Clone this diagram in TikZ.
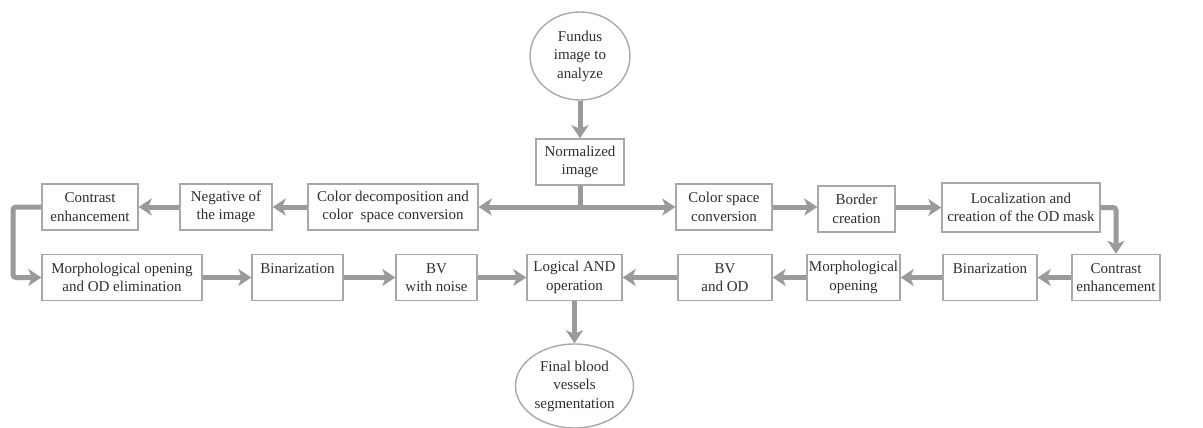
\documentclass[tikz,border=0pt]{standalone}
\usepackage{fontspec}
\setmainfont{Liberation Serif}
\usetikzlibrary{arrows.meta,shapes.geometric}
\definecolor{boxline}{HTML}{A8A8A8}
\definecolor{arrcol}{HTML}{9A9A9A}
\definecolor{txt}{HTML}{2E2E2E}
\begin{document}
\begin{tikzpicture}[x=1pt,y=-1pt,
  box/.style={draw=boxline,line width=1.4pt,fill=white,text=txt,align=center,
    font=\fontsize{15}{18.5}\selectfont,inner sep=0pt,minimum height=46pt},
  oval/.style={box,ellipse},
  flow/.style={draw=arrcol,line width=5pt,rounded corners=3pt,-{Stealth[width=17pt,length=13pt,inset=3.5pt]}},
  plain/.style={draw=arrcol,line width=5pt},
]
\useasboundingbox[fill=white] (0,0) rectangle (1203,428);
% nodes
\node[oval,minimum width=100pt,minimum height=88pt] (fundus) at (580,56) {Fundus\\image to\\analyze};
\node[box,minimum width=88pt] (norm) at (580,162) {Normalized\\image};
% row 1
\node[box,minimum width=96pt] (ce1) at (90,207) {Contrast\\enhancement};
\node[box,minimum width=92pt] (neg) at (226,207) {Negative of\\the image};
\node[box,minimum width=170pt] (cdec) at (393,207) {Color decomposition and\\color\ \ space conversion};
\node[box,minimum width=96pt] (csc) at (724,207) {Color space\\conversion};
\node[box,minimum width=77pt] (border) at (856.5,209) {Border\\creation};
\node[box,minimum width=158pt,minimum height=49pt] (loc) at (1021,207.5) {Localization and\\creation of the OD mask};
% row 2
\node[box,minimum width=160pt] (morph1) at (122,277.5) {Morphological opening\\and OD elimination};
\node[box,minimum width=91pt] (bin1) at (297.5,277.5) {Binarization\\\mbox{}};
\node[box,minimum width=81pt] (bvn) at (436.5,277.5) {BV\\with noise};
\node[box,minimum width=95pt] (and) at (574.5,277.5) {Logical AND\\operation};
\node[box,minimum width=94pt] (bvod) at (725,277.5) {BV\\and OD};
\node[box,minimum width=93pt] (morph2) at (853.5,277.5) {Morphological\\opening};
\node[box,minimum width=94pt] (bin2) at (990,277.5) {Binarization\\\mbox{}};
\node[box,minimum width=88pt] (ce2) at (1116,277.5) {Contrast\\enhancement};
\node[oval,minimum width=118pt,minimum height=84pt] (final) at (574.5,386) {Final blood\\vessels\\segmentation};
% connectors
\coordinate (j) at (580,207);
\draw[flow] (fundus) -- (norm);
\draw[plain] (norm.south) -- (j);
\draw[flow] (j) -- (cdec.east);
\draw[flow] (j) -- (csc.west);
\draw[flow] (cdec) -- (neg);
\draw[flow] (neg) -- (ce1);
\coordinate (lbend) at (13,207);
\draw[flow] (ce1.west) -- (lbend) |- (morph1.west);
\draw[flow] (csc.east) -- (border.west |- csc.east);
\draw[flow] (border.east |- loc.east) -- (loc.west);
\draw[flow] (loc.east) -| (ce2.north);
\draw[flow] (ce2) -- (bin2);
\draw[flow] (bin2) -- (morph2);
\draw[flow] (morph2) -- (bvod);
\draw[flow] (bvod) -- (and);
\draw[flow] (morph1) -- (bin1);
\draw[flow] (bin1) -- (bvn);
\draw[flow] (bvn) -- (and);
\draw[flow] (and) -- (final);
\end{tikzpicture}
\end{document}
